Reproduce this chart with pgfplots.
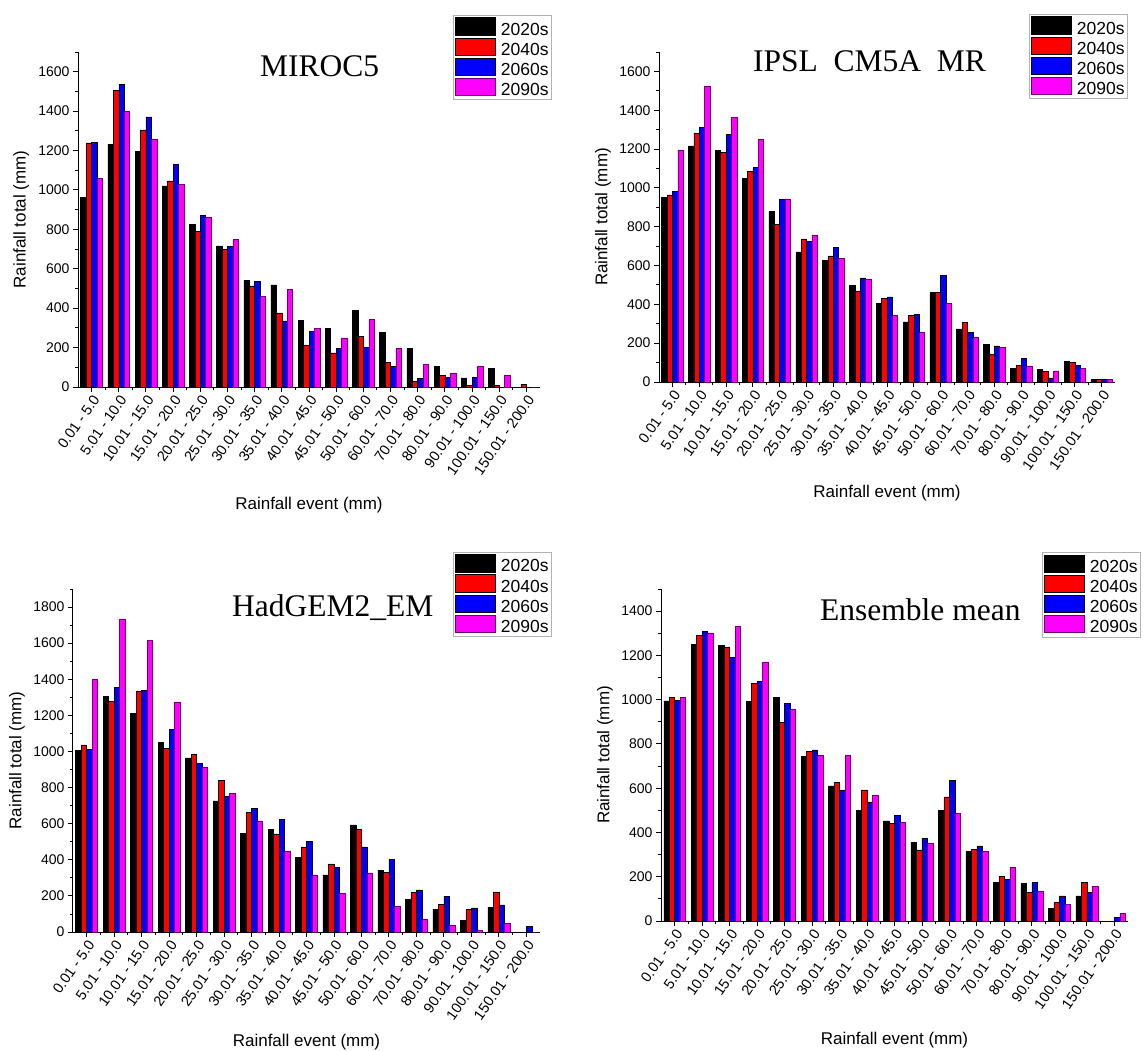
\documentclass[border=0pt]{standalone}
\usepackage{pgfplots}
\pgfplotsset{compat=1.18}
\usepackage{pgfplotstable}
\usepackage{fontspec}
\setmainfont{Liberation Sans}
\newfontfamily\timesfont{Liberation Serif}
\definecolor{cblack}{RGB}{0,0,0}
\definecolor{cred}{RGB}{255,0,0}
\definecolor{cblue}{RGB}{0,0,255}
\definecolor{cmag}{RGB}{255,0,255}
\definecolor{cmagedge}{RGB}{110,0,110}

\pgfplotstableread{
x a b c d
0 962 1239 1243 1058
1 1233 1504 1536 1397
2 1195 1305 1371 1256
3 1021 1046 1128 1029
4 825 789 872 860
5 716 699 714 748
6 540 513 535 460
7 518 376 335 496
8 339 212 283 296
9 296 173 195 249
10 389 257 201 342
11 278 125 103 195
12 196 29 44 113
13 103 59 49 69
14 46 7 47 103
15 95 10 0 59
16 0 15 0 0
}\miroc

\pgfplotstableread{
x a b c d
0 952 964 981 1196
1 1217 1282 1313 1523
2 1194 1184 1275 1365
3 1050 1084 1105 1249
4 878 812 940 943
5 670 737 723 757
6 628 650 692 637
7 496 470 537 528
8 404 430 439 344
9 310 344 349 255
10 460 463 551 404
11 274 306 256 229
12 194 143 186 177
13 69 84 120 83
14 64 55 21 57
15 108 102 86 71
16 12 12 12 14
}\ipsl

\pgfplotstableread{
x a b c d
0 1006 1037 1012 1399
1 1307 1279 1355 1735
2 1213 1333 1337 1615
3 1049 1019 1124 1274
4 964 982 936 914
5 727 840 751 768
6 546 663 685 615
7 567 543 624 445
8 415 471 502 317
9 317 377 360 216
10 594 570 471 327
11 343 332 404 140
12 181 218 233 68
13 126 153 198 35
14 66 124 133 9
15 138 222 150 48
16 0 0 33 0
}\hadgem

\pgfplotstableread{
x a b c d
0 995 1009 997 1010
1 1251 1289 1308 1302
2 1246 1239 1191 1332
3 992 1073 1082 1170
4 1010 899 983 957
5 743 765 773 750
6 611 626 592 750
7 499 592 538 570
8 452 441 476 447
9 355 321 372 351
10 501 561 634 486
11 313 324 340 316
12 175 203 188 241
13 170 128 173 135
14 57 84 114 75
15 114 176 128 158
16 0 0 15 35
}\ens

\pgfplotsset{
  legimg/.style={legend image code/.code={\draw[##1] (0pt,-5.5pt) rectangle (40pt,12pt);}},
  barA/.style={ybar, bar width=0.2, bar shift=-0.3, fill=cblack, draw=black, line width=0.5pt, legimg},
  barB/.style={ybar, bar width=0.2, bar shift=-0.1, fill=cred, draw=black, line width=0.5pt, legimg},
  barC/.style={ybar, bar width=0.2, bar shift=0.1, fill=cblue, draw=black, line width=0.5pt, legimg},
  barD/.style={ybar, bar width=0.2, bar shift=0.3, fill=cmag, draw=cmagedge, line width=0.5pt, legimg},
  panel/.style={
    scale only axis,
    axis x line*=bottom, axis y line*=left,
    xmin=-0.5, xmax=16.5, ymin=0,
    xtick={0,...,16},
    xticklabels={0.01 - 5.0, 5.01 - 10.0, 10.01 - 15.0, 15.01 - 20.0, 20.01 - 25.0, 25.01 - 30.0, 30.01 - 35.0, 35.01 - 40.0, 40.01 - 45.0, 45.01 - 50.0, 50.01 - 60.0, 60.01 - 70.0, 70.01 - 80.0, 80.01 - 90.0, 90.01 - 100.0, 100.01 - 150.0, 150.01 - 200.0},
    minor x tick num=1, minor y tick num=1,
    tick align=outside,
    major tick length=5pt, minor tick length=3pt,
    ytick distance=200,
    axis line style={line width=1pt, black},
    every tick/.append style={line width=0.9pt, black},
    tick label style={font=\fontsize{14}{16}\selectfont},
    xticklabel style={rotate=55, anchor=north east, inner sep=1pt, font=\fontsize{14.5}{16}\selectfont},
    /pgf/number format/assume math mode=true,
    /pgf/number format/1000 sep={},
    scaled y ticks=false,
    xlabel={Rainfall event (mm)}, ylabel={Rainfall total (mm)},
    label style={font=\fontsize{17}{20}\selectfont},
    legend style={draw=gray!60, line width=0.8pt, font=\fontsize{17.5}{19}\selectfont, anchor=north west, inner sep=2pt, row sep=0pt, column sep=4pt, nodes={inner sep=1pt}},
    legend cell align=left,
  },
}

\begin{document}
\begin{tikzpicture}
\useasboundingbox (0,0) rectangle (1144pt,-1051pt);

% MIROC5
\begin{axis}[panel, at={(78pt,-387pt)}, anchor=south west, width=462pt, height=335pt, ymax=1700,
  x label style={at={(axis description cs:0.5,-0.352)}, anchor=center},
  y label style={at={(axis description cs:-0.123,0.5)}, anchor=center},
  legend style={at={(axis description cs:0.8117,1.1104)}}]
\addplot[barA] table[x=x,y=a]{\miroc};
\addplot[barB] table[x=x,y=b]{\miroc};
\addplot[barC] table[x=x,y=c]{\miroc};
\addplot[barD] table[x=x,y=d]{\miroc};
\legend{2020s,2040s,2060s,2090s}
\end{axis}

% IPSL
\begin{axis}[panel, at={(659pt,-382pt)}, anchor=south west, width=456pt, height=330pt, ymax=1700,
  x label style={at={(axis description cs:0.5,-0.336)}, anchor=center},
  y label style={at={(axis description cs:-0.123,0.5)}, anchor=center},
  legend style={at={(axis description cs:0.8114,1.115)}}]
\addplot[barA] table[x=x,y=a]{\ipsl};
\addplot[barB] table[x=x,y=b]{\ipsl};
\addplot[barC] table[x=x,y=c]{\ipsl};
\addplot[barD] table[x=x,y=d]{\ipsl};
\legend{2020s,2040s,2060s,2090s}
\end{axis}

% HadGEM2
\begin{axis}[panel, at={(73pt,-932pt)}, anchor=south west, width=467pt, height=343pt, ymax=1900,
  x label style={at={(axis description cs:0.5,-0.321)}, anchor=center},
  y label style={at={(axis description cs:-0.120,0.5)}, anchor=center},
  legend style={at={(axis description cs:0.8137,1.108)}}]
\addplot[barA] table[x=x,y=a]{\hadgem};
\addplot[barB] table[x=x,y=b]{\hadgem};
\addplot[barC] table[x=x,y=c]{\hadgem};
\addplot[barD] table[x=x,y=d]{\hadgem};
\legend{2020s,2040s,2060s,2090s}
\end{axis}

% Ensemble
\begin{axis}[panel, at={(661pt,-921pt)}, anchor=south west, width=467pt, height=332pt, ymax=1500,
  x label style={at={(axis description cs:0.5,-0.358)}, anchor=center},
  y label style={at={(axis description cs:-0.120,0.5)}, anchor=center},
  legend style={at={(axis description cs:0.8158,1.111)}}]
\addplot[barA] table[x=x,y=a]{\ens};
\addplot[barB] table[x=x,y=b]{\ens};
\addplot[barC] table[x=x,y=c]{\ens};
\addplot[barD] table[x=x,y=d]{\ens};
\legend{2020s,2040s,2060s,2090s}
\end{axis}

\node[anchor=base west, inner sep=0pt, font=\timesfont\fontsize{31.5}{36}\selectfont] at (260pt,-77pt) {MIROC5};
\node[anchor=base west, inner sep=0pt, font=\timesfont\fontsize{31.5}{36}\selectfont] at (753pt,-72pt) {IPSL\ \ CM5A\ \ MR};
\node[anchor=base west, inner sep=0pt, font=\timesfont\fontsize{31.5}{36}\selectfont] at (232pt,-616pt) {HadGEM2\_EM};
\node[anchor=base west, inner sep=0pt, font=\timesfont\fontsize{31.5}{36}\selectfont] at (820pt,-620pt) {Ensemble mean};
\end{tikzpicture}
\end{document}
